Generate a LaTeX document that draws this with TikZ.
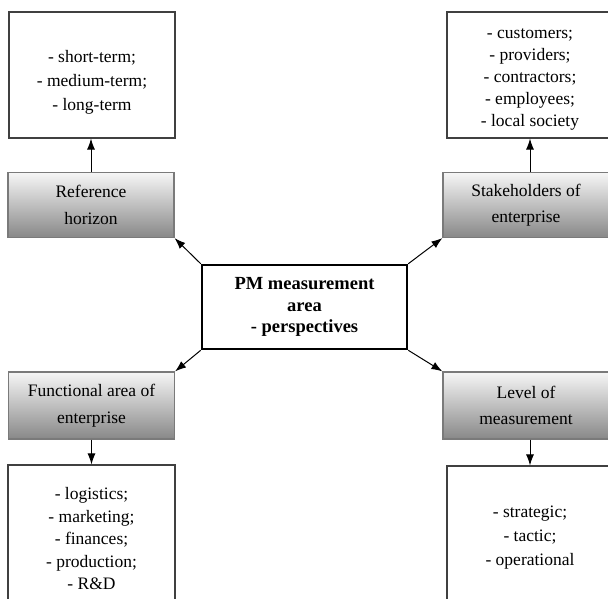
\documentclass[tikz,border=0pt]{standalone}
\usepackage{fontspec}
\setmainfont{Liberation Serif}
\usetikzlibrary{arrows.meta}

\definecolor{boxline}{HTML}{404040}
\definecolor{greyline}{HTML}{7A7A7A}
\definecolor{greytop}{HTML}{F6F6F6}
\definecolor{greybot}{HTML}{888888}

\begin{document}
\begin{tikzpicture}[x=1pt,y=-1pt,
  listbox/.style={draw=boxline, line width=1.1pt, fill=white, inner sep=0pt},
  listtext/.style={inner sep=0pt, align=center, font=\fontsize{17.5}{22.5}\selectfont},
  headbox/.style={draw=greyline, line width=1.2pt, top color=greytop, bottom color=greybot,
    inner sep=0pt, align=center, minimum width=166pt, minimum height=65pt,
    font=\fontsize{17.5}{26.5}\selectfont},
  arr/.style={line width=1pt, -{Latex[length=11pt,width=8pt]}}]

  \useasboundingbox (0,0) rectangle (608,598);
  \clip (0,0) rectangle (608,598);

  % centre
  \node[draw, line width=2.5pt, inner sep=0pt, minimum width=205pt, minimum height=84pt,
    align=center, font=\fontsize{18.5}{21.5}\selectfont\bfseries] (pm) at (304.5,307)
    {PM measurement\\area\\- perspectives};

  % four headings
  \node[headbox] (hzn) at (91,205) {Reference\\horizon};
  \node[headbox] (stk) at (526,205) {Stakeholders of\\enterprise};
  \node[headbox, minimum height=67pt] (fun) at (91.5,405.5) {Functional area of\\enterprise};
  \node[headbox, minimum height=67pt] (lvl) at (526,405.5) {Level of\\measurement};

  % lists
  \node[listbox, minimum width=166pt, minimum height=126pt] (hznlist) at (92,75) {};
  \node[listtext, font=\fontsize{17.5}{24}\selectfont] (hzntext) at ([yshift=-7pt]hznlist)
    {- short-term;\\- medium-term;\\- long-term};
  \node[listbox, minimum width=166pt, minimum height=126pt] (stklist) at (530,75) {};
  \node[listtext, font=\fontsize{17.5}{22}\selectfont] (stktext) at ([yshift=-4pt]stklist)
    {- customers;\\- providers;\\- contractors;\\- employees;\\- local society};
  \node[listbox, minimum width=167pt, minimum height=146pt] (funlist) at (91.5,538) {};
  \node[listtext] (funtext) at ([yshift=-1pt]funlist)
    {- logistics;\\- marketing;\\- finances;\\- production;\\- R\&D};
  \node[listbox, minimum width=166pt, minimum height=138pt] (lvllist) at (530,535) {};
  \node[listtext, font=\fontsize{17.5}{24}\selectfont] (lvltext) at ([yshift=-3pt]lvllist)
    {- strategic;\\- tactic;\\- operational};

  \draw[arr] (pm.north west) -- (hzn.south east);
  \draw[arr] (pm.north east) -- (stk.south west);
  \draw[arr] (pm.south west) -- (fun.north east);
  \draw[arr] (pm.south east) -- (lvl.north west);

  \draw[arr] (hzn.north) -- (hzn.north |- hznlist.south);
  \draw[arr] (stklist.south |- stk.north) -- (stklist.south);
  \draw[arr] (fun.south) -- (fun.south |- funlist.north);
  \draw[arr] (lvllist.north |- lvl.south) -- (lvllist.north);

\end{tikzpicture}
\end{document}
